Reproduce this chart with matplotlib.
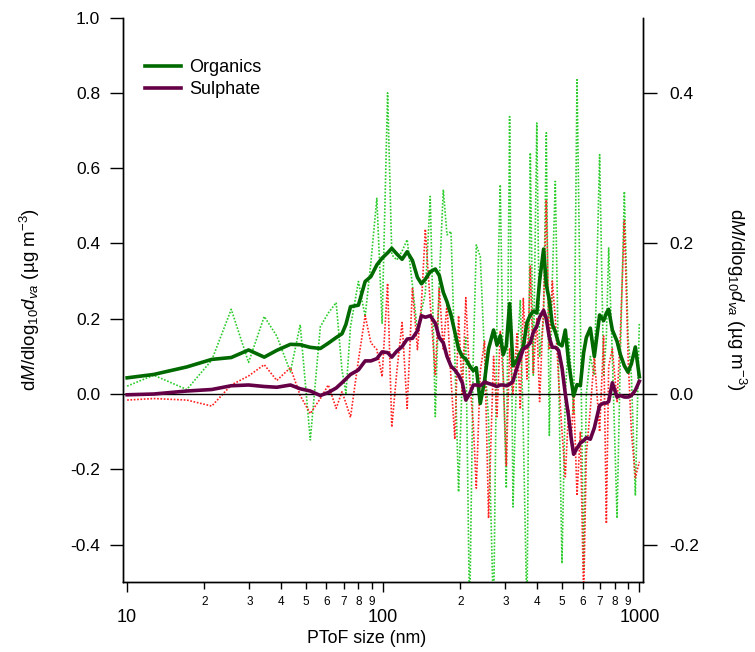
import matplotlib
matplotlib.use("Agg")
import matplotlib.pyplot as plt
from matplotlib.ticker import FixedLocator, FixedFormatter

plt.rcParams['font.family'] = ['Liberation Sans', 'DejaVu Sans']
plt.rcParams['mathtext.fontset'] = 'custom'
plt.rcParams['mathtext.rm'] = 'Liberation Sans'
plt.rcParams['mathtext.it'] = 'Liberation Sans:italic'

# PToF size bins (nm)
sizes = [10.0, 12.7, 17.1, 21.4, 25.5, 29.8, 34.3, 38.4, 43.4, 47.4,
         51.9, 56.8, 61.0, 65.5, 69.0, 71.5, 74.5, 80.0, 85.0, 89.5,
         94.4, 99.0, 104.0, 108.0, 113.0, 118.5, 124.0, 130.0, 136.0, 141.0,
         146.0, 152.6, 159.7, 165.5, 171.6, 177.4, 183.9, 190.3, 196.9, 203.6,
         210.1, 217.4, 224.7, 230.9, 239.3, 248.7, 257.8, 269.7, 278.1, 286.4,
         294.3, 302.4, 311.5, 321.1, 332.9, 342.9, 352.3, 364.2, 375.2, 385.5,
         397.8, 407.9, 422.9, 433.3, 445.1, 457.3, 469.8, 484.0, 498.9, 514.0,
         529.5, 542.6, 554.0, 571.1, 588.4, 606.1, 620.9, 643.6, 667.2, 699.8,
         725.5, 743.4, 759.0, 784.6, 818.5, 843.2, 874.0, 903.6, 930.9, 964.9,
         1000.0]

# organics, raw distribution (left axis)
org_raw = [0.021, 0.050, 0.012, 0.090, 0.225, 0.084, 0.206, 0.154, 0.059, 0.184,
           -0.122, 0.179, 0.215, 0.243, 0.064, 0.002, 0.179, 0.299, 0.206, 0.350,
           0.520, 0.188, 0.800, 0.370, 0.356, 0.380, 0.410, 0.290, 0.166, 0.220,
           0.268, 0.525, -0.060, 0.300, 0.543, 0.423, 0.432, 0.100, -0.260, 0.050,
           0.150, -0.600, 0.100, 0.396, 0.365, 0.100, -0.070, -0.600, 0.200, 0.556,
           0.050, -0.250, 0.737, -0.300, 0.100, 0.250, -0.100, -0.600, 0.641, 0.050,
           0.720, 0.100, 0.200, 0.694, -0.110, 0.300, 0.565, 0.050, -0.450, 0.000,
           0.150, 0.050, -0.050, 0.835, 0.200, -0.470, 0.000, 0.100, 0.050, 0.636,
           0.050, 0.150, 0.388, 0.100, -0.330, 0.100, 0.538, 0.150, 0.050, -0.270,
           0.188]

# organics, smoothed (left axis)
org_smooth = [0.043, 0.052, 0.072, 0.092, 0.097, 0.117, 0.098, 0.116, 0.132, 0.131,
              0.124, 0.121, 0.135, 0.150, 0.160, 0.185, 0.232, 0.236, 0.299, 0.312,
              0.343, 0.361, 0.375, 0.387, 0.372, 0.358, 0.378, 0.355, 0.310, 0.293,
              0.305, 0.325, 0.332, 0.315, 0.270, 0.245, 0.210, 0.165, 0.120, 0.100,
              0.093, 0.075, 0.062, 0.070, -0.025, 0.035, 0.120, 0.170, 0.130, 0.155,
              0.105, 0.128, 0.240, 0.075, 0.090, 0.110, 0.125, 0.190, 0.210, 0.220,
              0.215, 0.300, 0.385, 0.290, 0.250, 0.185, 0.165, 0.134, 0.128, 0.170,
              0.085, 0.035, -0.005, 0.025, 0.022, 0.110, 0.150, 0.175, 0.100, 0.210,
              0.195, 0.215, 0.225, 0.170, 0.140, 0.105, 0.075, 0.058, 0.080, 0.125,
              0.046]

# sulphate, raw distribution (right axis)
sul_raw = [-0.008, -0.006, -0.008, -0.016, 0.012, 0.024, 0.039, 0.018, 0.035, -0.002,
           -0.026, -0.006, 0.012, -0.019, 0.003, -0.012, -0.031, 0.045, 0.104, 0.068,
           0.059, 0.023, 0.147, -0.044, 0.030, 0.095, -0.019, 0.140, 0.059, 0.120,
           0.219, 0.120, 0.026, 0.140, 0.060, 0.120, 0.020, -0.060, 0.104, 0.000,
           0.128, 0.020, -0.040, -0.125, 0.030, 0.070, -0.165, 0.050, -0.030, 0.084,
           0.020, -0.095, 0.060, 0.000, 0.080, -0.020, 0.127, 0.020, 0.170, 0.028,
           0.100, -0.010, 0.120, 0.258, 0.059, 0.150, 0.100, 0.020, -0.050, -0.110,
           -0.020, -0.060, 0.000, -0.135, -0.050, -0.270, -0.080, -0.020, 0.050, -0.050,
           0.077, -0.172, 0.037, 0.060, -0.010, 0.080, 0.230, 0.050, -0.050, -0.111,
           -0.090]

# sulphate, smoothed (right axis)
sul_smooth = [-0.001, 0.000, 0.004, 0.006, 0.011, 0.012, 0.010, 0.009, 0.012, 0.007,
              0.004, -0.002, 0.002, 0.008, 0.015, 0.020, 0.026, 0.032, 0.044, 0.044,
              0.047, 0.056, 0.055, 0.049, 0.057, 0.063, 0.073, 0.074, 0.084, 0.104,
              0.102, 0.104, 0.094, 0.075, 0.068, 0.050, 0.037, 0.032, 0.025, 0.015,
              -0.008, 0.000, 0.012, 0.012, 0.011, 0.016, 0.014, 0.012, 0.010, 0.012,
              0.012, 0.011, 0.013, 0.017, 0.035, 0.048, 0.060, 0.063, 0.068, 0.082,
              0.090, 0.102, 0.111, 0.100, 0.075, 0.062, 0.062, 0.058, 0.035, 0.000,
              -0.030, -0.060, -0.080, -0.072, -0.065, -0.062, -0.058, -0.060, -0.045, -0.015,
              -0.012, -0.012, -0.010, 0.015, -0.004, -0.002, -0.004, -0.004, -0.002, 0.005,
              0.017]

major_ticks = [10, 100, 1000]
major_labels = ['10', '100', '1000']
minor_ticks = [20, 30, 40, 50, 60, 70, 80, 90, 200, 300, 400, 500, 600, 700, 800, 900]
minor_labels = ['2', '3', '4', '5', '6', '7', '8', '9'] * 2
left_ticks = [-0.4, -0.2, 0.0, 0.2, 0.4, 0.6, 0.8, 1.0]
right_ticks = [-0.2, 0.0, 0.2, 0.4]

green_dark = '#006a00'
green_light = '#2ccc2c'
purple = '#650046'
red = '#ff2020'
dots = (0, (1, 1))

fig = plt.figure(figsize=(7.55, 6.52), dpi=100)
ax = fig.add_axes([0.163, 0.107, 0.689, 0.866])
ax2 = ax.twinx()

ax.plot(sizes, org_raw, color=green_light, lw=1.2, ls=dots, zorder=1)
ax2.plot(sizes, sul_raw, color=red, lw=1.2, ls=dots, zorder=1)
ax2.axhline(0, color='black', lw=1.0, zorder=2)
# thick organics line drawn on the top axes so it sits above the red dots
l_org, = ax2.plot(sizes, org_smooth, color=green_dark, lw=2.6, transform=ax.transData,
                  zorder=3, label='Organics')
l_sul, = ax2.plot(sizes, sul_smooth, color=purple, lw=2.6, zorder=4, label='Sulphate')

ax.set_xscale('log')
ax.set_xlim(9.64, 1036)
ax.set_ylim(-0.5, 1.0)
ax2.set_ylim(-0.25, 0.5)

ax.xaxis.set_major_locator(FixedLocator(major_ticks))
ax.xaxis.set_major_formatter(FixedFormatter(major_labels))
ax.xaxis.set_minor_locator(FixedLocator(minor_ticks))
ax.xaxis.set_minor_formatter(FixedFormatter(minor_labels))
ax.set_yticks(left_ticks)
ax.set_yticklabels([f'{v:.1f}' for v in left_ticks])
ax2.set_yticks(right_ticks)
ax2.set_yticklabels([f'{v:.1f}' for v in right_ticks])

for a in (ax, ax2):
    a.spines['top'].set_visible(False)
    for s in a.spines.values():
        s.set_linewidth(1.0)

ax.tick_params(axis='x', which='major', direction='out', length=7.5, width=1,
               pad=12, labelsize=13)
ax.tick_params(axis='x', which='minor', direction='out', length=5, width=1,
               pad=5, labelsize=8.5)
ax.tick_params(axis='y', direction='out', length=9.4, width=1, pad=7.2, labelsize=12.5)
ax2.tick_params(axis='y', direction='out', length=10, width=1, pad=9, labelsize=12.5)

ylab = r'd$\mathit{M}$/dlog$_{10}$$\mathit{d}_{\mathit{va}}$ (µg m$^{-3}$)'
ax.set_ylabel(ylab, fontsize=13.5, labelpad=20)
ax2.set_ylabel(ylab, fontsize=13.5, rotation=270, labelpad=35)
ax.set_xlabel('PToF size (nm)', fontsize=12.8)
ax.xaxis.set_label_coords(0.469, -0.085)

ax2.legend(handles=[l_org, l_sul], loc='upper left', bbox_to_anchor=(0.01, 0.955),
           frameon=False, fontsize=13, handlelength=2.0, handletextpad=0.45,
           labelspacing=0.27)

fig.savefig('out.png', dpi=100)
